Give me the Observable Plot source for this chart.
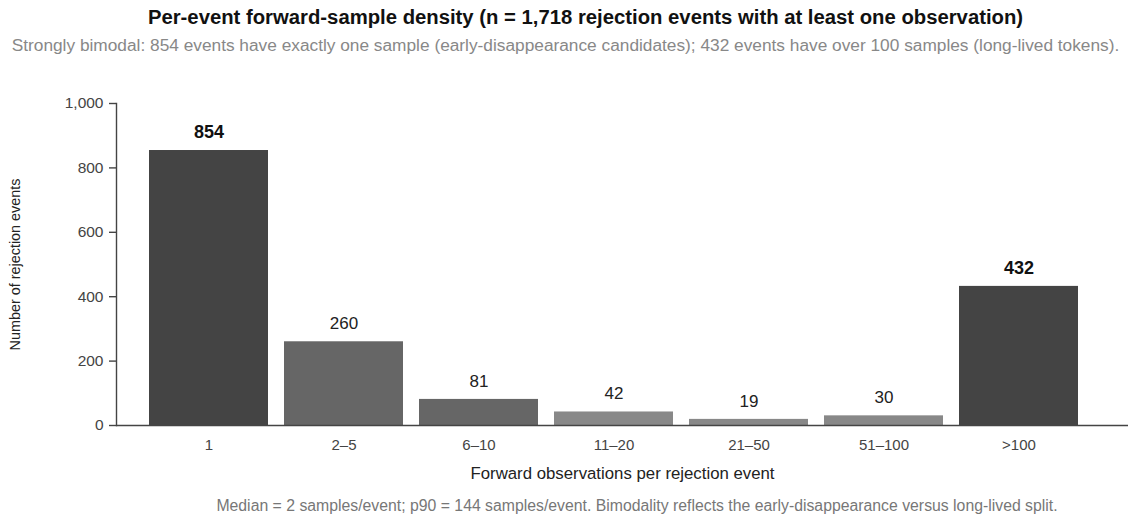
<!DOCTYPE html>
<html>
<head>
<meta charset="utf-8">
<script src="https://cdn.jsdelivr.net/npm/d3@7"></script>
<script src="https://cdn.jsdelivr.net/npm/@observablehq/plot@0.6"></script>
<style>
  html, body { margin: 0; padding: 0; background: #fff; }
  body { width: 1131px; height: 519px; position: relative; overflow: hidden; font-family: "Liberation Sans", Arial, sans-serif; }
  #title { position: absolute; top: 5px; left: 0; width: 1131px; padding-left: 40px; box-sizing: border-box; text-align: center; font-size: 20.3px; font-weight: bold; color: #111; line-height: 24px; white-space: nowrap; }
  #subtitle { position: absolute; top: 35px; left: 0; width: 1131px; padding-left: 0px; box-sizing: border-box; text-align: center; font-size: 17.3px; color: #888; line-height: 20px; white-space: nowrap; }
  #chart { position: absolute; top: 60px; left: 0; }
  #caption { position: absolute; top: 497px; left: 0; width: 1131px; padding-left: 143px; box-sizing: border-box; text-align: center; font-size: 15.8px; color: #777; line-height: 18px; white-space: nowrap; }
</style>
</head>
<body>
<div id="title">Per-event forward-sample density (n = 1,718 rejection events with at least one observation)</div>
<div id="subtitle">Strongly bimodal: 854 events have exactly one sample (early-disappearance candidates); 432 events have over 100 samples (long-lived tokens).</div>
<div id="chart"></div>
<div id="caption">Median = 2 samples/event; p90 = 144 samples/event. Bimodality reflects the early-disappearance versus long-lived split.</div>
<script>
const categories = ["1", "2–5", "6–10", "11–20", "21–50", "51–100", ">100"];
const counts = [854, 260, 81, 42, 19, 30, 432];
const tiers = ["peak", "mid", "mid", "low", "low", "low", "peak"];
const yTicks = [0, 200, 400, 600, 800, 1000];
const yLabel = "Number of rejection events";
const xLabel = "Forward observations per rejection event";

const data = categories.map((c, i) => ({bin: c, count: counts[i], tier: tiers[i]}));

const chart = Plot.plot({
  width: 1131,
  height: 437,
  marginTop: 43,
  marginLeft: 116,
  marginRight: 3,
  marginBottom: 72,
  style: {fontFamily: "Liberation Sans, Arial, sans-serif", fontSize: "15px", color: "#444", background: "#fff", overflow: "visible"},
  x: {domain: categories, range: [132, 1094], padding: 0.12, label: null},
  y: {domain: [0, 1000], label: null},
  color: {domain: ["peak", "mid", "low"], range: ["#444444", "#666666", "#888888"]},
  marks: [
    Plot.barY(data, {x: "bin", y: "count", fill: "tier"}),
    Plot.ruleY([0], {stroke: "#444", strokeWidth: 1.4}),
    Plot.frame({anchor: "left", stroke: "#444", strokeWidth: 1.4}),
    Plot.axisY({ticks: yTicks, tickFormat: d => d.toLocaleString("en-US"), tickSize: 7, tickPadding: 6, fontSize: 15.5, stroke: "#444", strokeWidth: 1.4, label: null}),
    Plot.axisX({tickSize: 0, tickPadding: 14, fontSize: 15, label: null}),
    Plot.text([yLabel], {frameAnchor: "left", textAnchor: "middle", lineAnchor: "middle", text: d => d, rotate: -90, dx: -101, fontSize: 14.4, fill: "#222"}),
    Plot.text([xLabel], {frameAnchor: "bottom", text: d => d, dy: 53, fontSize: 16.8, fill: "#222"}),
    Plot.text(data.filter(d => d.tier === "peak"), {x: "bin", y: "count", text: d => String(d.count), dy: -18, fontSize: 18, fontWeight: "bold", fill: "#111"}),
    Plot.text(data.filter(d => d.tier !== "peak"), {x: "bin", y: "count", text: d => String(d.count), dy: -18, fontSize: 17, fill: "#222"})
  ]
});
document.getElementById("chart").appendChild(chart);
</script>
</body>
</html>
